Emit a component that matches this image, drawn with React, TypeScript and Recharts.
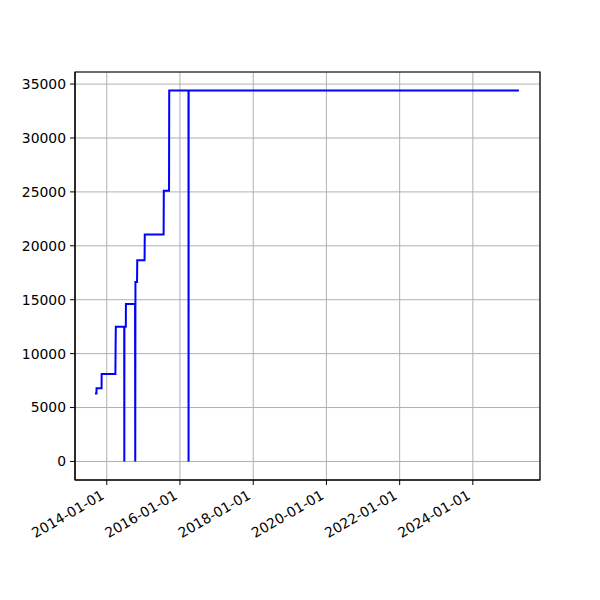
import React from 'react'
import { LineChart, Line, XAxis, YAxis, CartesianGrid, ReferenceArea } from 'recharts'

// readings; repeated dates make the vertical jumps
const DATES = [
    '2013-09-05', '2013-09-20', '2013-09-21', '2013-11-10', '2013-11-11',
    '2014-03-28', '2014-03-30', '2014-04-01',
    '2014-06-24', '2014-06-25', '2014-06-26',
    '2014-07-10', '2014-07-11',
    '2014-10-10', '2014-10-12', '2014-10-14',
    '2014-10-30', '2014-11-01',
    '2015-01-13', '2015-01-15',
    '2015-07-22', '2015-07-24',
    '2015-09-14', '2015-09-16',
    '2016-03-26', '2016-03-27', '2016-03-28',
    '2025-04-05',
]
const VALUES = [
    6300, 6300, 6800, 6800, 8100,
    8100, 10500, 12500,
    12500, 0, 12500,
    12500, 14600,
    14600, 0, 16650,
    16650, 18660,
    18660, 21050,
    21050, 25100,
    25100, 34400,
    34400, 0, 34400,
    34400,
]
const X_TICKS = ['2014-01-01', '2016-01-01', '2018-01-01', '2020-01-01', '2022-01-01', '2024-01-01']
const Y_TICKS = [0, 5000, 10000, 15000, 20000, 25000, 30000, 35000]
const X_DOMAIN = ['2013-02-18', '2025-11-01']
const Y_DOMAIN = [-1720, 36120]

const ts = (d: string) => new Date(d + 'T00:00:00Z').getTime()

const data = DATES.map((d, i) => ({ t: ts(d), v: VALUES[i] }))

const FONT = 'DejaVu Sans, sans-serif'

function fmtDate(t: number) {
    return new Date(t).toISOString().slice(0, 10)
}

// eslint-disable-next-line @typescript-eslint/no-explicit-any
function DateTick(props: any) {
    const { x, y, payload } = props
    const ax = x - 1.5
    const ay = y + 11
    return (
        <text
            x={ax}
            y={ay}
            textAnchor="end"
            fontSize={13.9}
            fontFamily={FONT}
            fill="#000"
            transform={`rotate(-30, ${ax}, ${ay})`}
        >
            {fmtDate(payload.value)}
        </text>
    )
}

export default function App() {
    const [x0, x1] = X_DOMAIN.map(ts)
    return (
        <div style={{ position: 'absolute', left: 0, top: 0, width: 600, height: 600, background: '#fff' }}>
            <LineChart
                width={600}
                height={600}
                data={data}
                margin={{ top: 72, right: 60, bottom: 0, left: 0 }}
            >
                <CartesianGrid stroke="#b0b0b0" strokeWidth={1} />
                <XAxis
                    dataKey="t"
                    type="number"
                    domain={[x0, x1]}
                    ticks={X_TICKS.map(ts)}
                    allowDataOverflow
                    height={120}
                    interval={0}
                    tickSize={5}
                    tickLine={{ stroke: '#000' }}
                    axisLine={{ stroke: '#000' }}
                    tick={<DateTick />}
                />
                <YAxis
                    type="number"
                    domain={Y_DOMAIN}
                    ticks={Y_TICKS}
                    allowDataOverflow
                    width={75}
                    interval={0}
                    tickSize={5}
                    tickMargin={4}
                    tickLine={{ stroke: '#000' }}
                    axisLine={{ stroke: '#000' }}
                    tick={{ fill: '#000', fontSize: 13.9, fontFamily: FONT }}
                />
                <ReferenceArea
                    x1={x0}
                    x2={x1}
                    y1={Y_DOMAIN[0]}
                    y2={Y_DOMAIN[1]}
                    fill="none"
                    fillOpacity={0}
                    stroke="#000"
                    strokeWidth={1.2}
                    ifOverflow="visible"
                />
                <Line
                    dataKey="v"
                    type="linear"
                    stroke="#0000ff"
                    strokeWidth={2}
                    dot={false}
                    isAnimationActive={false}
                />
            </LineChart>
        </div>
    )
}
